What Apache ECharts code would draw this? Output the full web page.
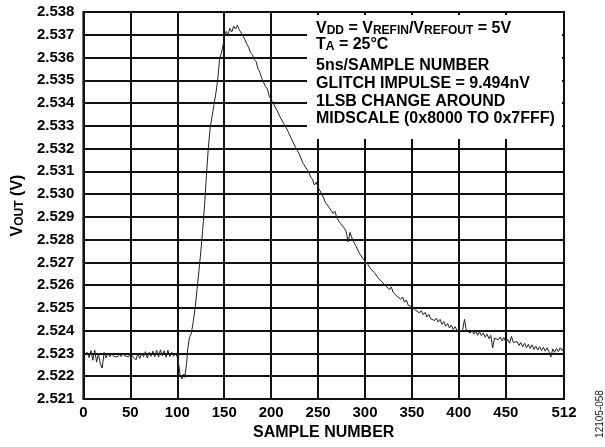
<!DOCTYPE html>
<html>
<head>
<meta charset="utf-8">
<script src="https://cdn.jsdelivr.net/npm/echarts@6/dist/echarts.min.js"></script>
<style>html,body{margin:0;padding:0;background:#fff}#c{width:605px;height:447px}</style>
</head>
<body>
<div id="c"></div>
<script>
const sampleNumbers = [
  0,2,4,6,8,10,12,14,16,18,20,22,24,26,28,30,32,34,36,38,40,42,44,46,48,50,52,54,56,58,60,62,64,66,68,70,72,74,76,78,80,82,84,86,88,90,92,94,96,98,
  100,102,103,105,107,108,110,111,113,115,117,119,121,123,125,127,129,131,133,135,137,139,141,143,145,147,149,
  150,152,154,156,158,160,162,164,166,168,170,172,174,176,178,180,182,184,186,188,190,192,194,196,198,
  200,202,204,206,208,210,212,214,216,218,220,222,224,226,228,230,232,234,236,238,240,242,244,246,248,
  250,252,254,256,258,260,262,264,266,268,270,272,274,276,278,280,282,284,286,288,290,292,294,296,298,
  300,302,304,306,308,310,312,314,316,318,320,322,324,326,328,330,332,334,336,338,340,342,344,346,348,
  350,352,354,356,358,360,362,364,366,368,370,372,374,376,378,380,382,384,386,388,390,392,394,396,398,
  400,402,404,406,408,410,412,414,416,418,420,422,424,426,428,430,432,434,436,438,440,442,444,446,448,
  450,452,454,456,458,460,462,464,466,468,470,472,474,476,478,480,482,484,486,488,490,492,494,496,498,
  500,502,504,506,508,510,512
];
const vout = [
  2.52292,2.52285,2.52305,2.52282,2.52312,2.52270,2.52315,2.52262,2.52300,2.52255,2.52236,2.52305,2.52280,2.52302,2.52285,2.52300,2.52288,2.52296,2.52284,2.52298,2.52286,2.52300,2.52290,2.52298,2.52285,2.52300,2.52290,2.52296,2.52272,2.52300,2.52278,2.52302,2.52285,2.52308,2.52280,2.52305,2.52288,2.52310,2.52286,2.52314,2.52284,2.52316,2.52290,2.52312,2.52284,2.52314,2.52286,2.52305,2.52288,2.52300,
  2.52285,2.52240,2.52200,2.52188,2.52210,2.52195,2.52260,2.52315,2.52370,2.52390,2.52440,2.52500,2.52580,2.52660,2.52745,2.52840,2.52950,2.53080,2.53200,2.53290,2.53340,2.53390,2.53440,2.53500,2.53590,2.53620,2.53660,
  2.53690,2.53715,2.53700,2.53728,2.53712,2.53738,2.53725,2.53742,2.53722,2.53730,2.53695,2.53680,2.53660,2.53645,2.53622,2.53612,2.53592,2.53582,2.53550,2.53535,2.53508,2.53502,2.53472,2.53462,2.53430,
  2.53428,2.53400,2.53395,2.53370,2.53368,2.53335,2.53340,2.53305,2.53310,2.53275,2.53268,2.53240,2.53235,2.53205,2.53210,2.53175,2.53168,2.53135,2.53140,2.53110,2.53098,2.53075,2.53065,2.53040,2.53052,
  2.53030,2.53032,2.53000,2.52992,2.52962,2.52968,2.52940,2.52942,2.52915,2.52925,2.52895,2.52900,2.52870,2.52878,2.52850,2.52835,2.52790,2.52832,2.52808,2.52790,2.52775,2.52768,2.52740,2.52745,2.52715,
  2.52712,2.52698,2.52700,2.52672,2.52680,2.52655,2.52660,2.52632,2.52640,2.52615,2.52622,2.52598,2.52602,2.52580,2.52592,2.52568,2.52575,2.52552,2.52560,2.52538,2.52548,2.52525,2.52535,2.52512,2.52520,
  2.52505,2.52512,2.52490,2.52498,2.52478,2.52488,2.52470,2.52480,2.52460,2.52472,2.52452,2.52460,2.52445,2.52455,2.52438,2.52450,2.52428,2.52440,2.52420,2.52432,2.52412,2.52425,2.52405,2.52418,2.52402,
  2.52410,2.52395,2.52405,2.52450,2.52400,2.52408,2.52390,2.52402,2.52385,2.52398,2.52380,2.52395,2.52378,2.52390,2.52372,2.52385,2.52365,2.52380,2.52325,2.52368,2.52375,2.52360,2.52372,2.52355,2.52370,
  2.52350,2.52362,2.52345,2.52375,2.52348,2.52340,2.52352,2.52335,2.52348,2.52330,2.52345,2.52325,2.52340,2.52322,2.52338,2.52318,2.52332,2.52315,2.52330,2.52312,2.52328,2.52310,2.52325,2.52308,2.52285,
  2.52320,2.52305,2.52322,2.52308,2.52325,2.52312,2.52328
];
const xTickValues = [0,50,100,150,200,250,300,350,400,450,512];
const yMin = 2.521, yMax = 2.538, yStep = 0.001;
const xTitle = 'SAMPLE NUMBER';
const yTitle = 'V{s|OUT} (V)';
const annotationLines = [
  'V{s|DD} = V{s|REFIN}/V{s|REFOUT} = 5V',
  'T{s|A} = 25°C',
  '5ns/SAMPLE NUMBER',
  'GLITCH IMPULSE = 9.494nV',
  '1LSB CHANGE AROUND',
  'MIDSCALE (0x8000 TO 0x7FFF)'
];
const figureId = '12105-058';

const FONT = '"Liberation Sans", Arial, Helvetica, sans-serif';
const chart = echarts.init(document.getElementById('c'), null, {renderer: 'canvas'});
const data = sampleNumbers.map((s, i) => [s, vout[i]]);
const annoY = [29, 45, 66, 84, 102, 119];
const subRich = {
  s: {fontFamily: FONT, fontWeight: 'bold', fontSize: 12, fill: '#000', color: '#000', verticalAlign: 'bottom', lineHeight: 12, padding: [6, 0, 0, 0]}
};
const graphics = [
  {type: 'rect', shape: {x: 307, y: 15, width: 255, height: 124}, style: {fill: '#fff'}, z: 10, silent: true}
];
annotationLines.forEach((t, i) => {
  graphics.push({
    type: 'text', x: 316, y: annoY[i], z: 11, silent: true,
    style: {
      text: t, fill: '#000', fontFamily: FONT, fontWeight: 'bold', fontSize: 16,
      verticalAlign: 'middle', align: 'left', rich: subRich
    }
  });
});
graphics.push({
  type: 'text', x: 600, y: 414, rotation: Math.PI / 2, silent: true,
  style: {text: figureId, fill: '#222', fontFamily: FONT, fontSize: 10, align: 'center', verticalAlign: 'middle'}
});

chart.setOption({
  animation: false,
  backgroundColor: '#fff',
  grid: {left: 81, right: 41, top: 12, bottom: 48, show: true, borderColor: '#111', borderWidth: 2, backgroundColor: 'transparent'},
  xAxis: {
    type: 'value', min: 0, max: 512,
    name: xTitle, nameLocation: 'middle', nameGap: 26,
    nameTextStyle: {fontFamily: FONT, fontWeight: 'bold', fontSize: 16, color: '#000'},
    axisLine: {show: false},
    axisTick: {show: false, customValues: xTickValues},
    axisLabel: {customValues: xTickValues, fontFamily: FONT, fontWeight: 'bold', fontSize: 15, color: '#000', margin: 6},
    splitLine: {show: true, lineStyle: {color: '#111', width: 2}}
  },
  yAxis: {
    type: 'value', min: yMin, max: yMax, interval: yStep,
    name: yTitle, nameLocation: 'middle', nameGap: 50, nameRotate: 90,
    nameTextStyle: {fontFamily: FONT, fontWeight: 'bold', fontSize: 16, color: '#000',
      rich: {s: {fontFamily: FONT, fontWeight: 'bold', fontSize: 12, color: '#000', verticalAlign: 'bottom', lineHeight: 12, padding: [6, 0, 0, 0]}}},
    axisLine: {show: false},
    axisTick: {show: false},
    axisLabel: {fontFamily: FONT, fontWeight: 'bold', fontSize: 15, color: '#000', margin: 9,
      formatter: v => v.toFixed(3)},
    splitLine: {show: true, lineStyle: {color: '#111', width: 2}}
  },
  series: [{
    type: 'line', data: data, showSymbol: false, symbol: 'none',
    lineStyle: {color: '#222', width: 1}, z: 5
  }],
  graphic: graphics
});
</script>
</body>
</html>
